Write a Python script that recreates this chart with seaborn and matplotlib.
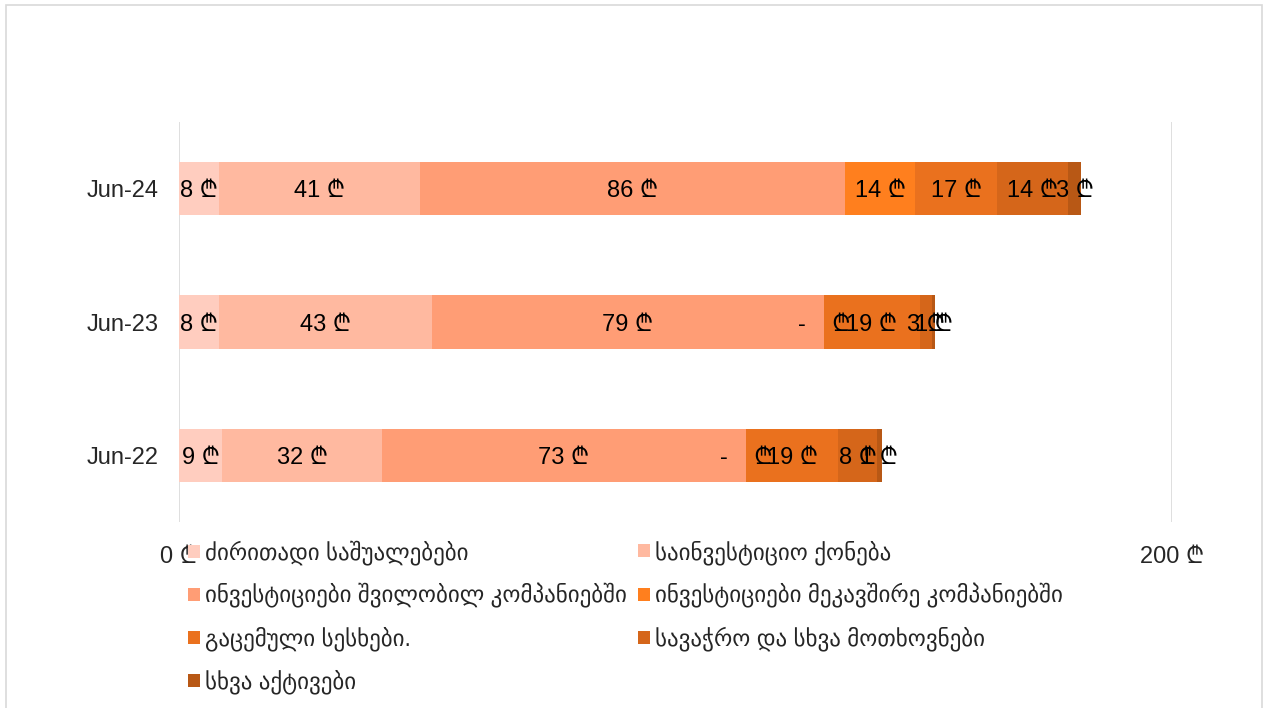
import matplotlib
matplotlib.use("Agg")
import matplotlib.pyplot as plt
import matplotlib.patches as mpatches
import seaborn as sns
import numpy as np
import pandas as pd

# ---------------- data ----------------
periods = ["Jun-24", "Jun-23", "Jun-22"]
series_names = [
    "ძირითადი საშუალებები",
    "საინვესტიციო ქონება",
    "ინვესტიციები შვილობილ კომპანიებში",
    "ინვესტიციები მეკავშირე კომპანიებში",
    "გაცემული სესხები.",
    "სავაჭრო და სხვა მოთხოვნები",
    "სხვა აქტივები",
]
fixed_assets = [8.1, 8.0, 8.7]
investment_property = [40.5, 42.9, 32.2]
inv_subsidiaries = [85.6, 79.0, 73.3]
inv_associates = [14.1, 0.0, 0.0]
loans_issued = [16.5, 19.3, 18.6]
trade_receivables = [14.3, 2.5, 7.7]
other_assets = [2.5, 0.6, 1.0]
xtick_values = [0, 200]
xtick_labels = ["0 ₾", "200 ₾"]

colors = ["#FFCDBF", "#FFB9A0", "#FF9D75", "#FF7F1E", "#EA711E", "#D5661A", "#B85815"]

series_values = [fixed_assets, investment_property, inv_subsidiaries, inv_associates,
                 loans_issued, trade_receivables, other_assets]

# ---------------- style ----------------
sns.set_theme(style="white")
plt.rcParams["font.family"] = ["Liberation Sans", "DejaVu Sans", "Noto Sans"]

FS = 17
LFS = 16.6
W, H = 1269, 708
fig = plt.figure(figsize=(W / 100, H / 100), dpi=100)
ax = fig.add_axes([179 / W, 1 - 522 / H, (1172 - 179) / W, (522 - 122) / H])

# long table with cumulative ends
rows = []
for si, (name, vals) in enumerate(zip(series_names, series_values)):
    for pi, p in enumerate(periods):
        rows.append({"period": p, "series": name, "value": vals[pi], "order": si})
df = pd.DataFrame(rows)
df["cum"] = df.groupby("period")["value"].cumsum()
df["start"] = df["cum"] - df["value"]

# draw stacked bars: longest cumulative first
for si in reversed(range(len(series_names))):
    sub = df[df["order"] == si]
    sns.barplot(data=sub, x="cum", y="period", order=periods, orient="h",
                color=colors[si], width=0.4, ax=ax, saturation=1,
                edgecolor=colors[si], linewidth=0)

# labels
for _, r in df.iterrows():
    yi = periods.index(r["period"])
    xc = r["start"] + r["value"] / 2
    if r["value"] == 0:
        lab = "-    ₾"
    else:
        lab = f"{int(r['value'] + 0.5)} ₾"
    ax.text(xc, yi + 0.02, lab, ha="center", va="center", fontsize=FS, color="black")

ax.set_xlim(0, 200)
ax.set_ylim(2.5, -0.5)
ax.set_xticks(xtick_values)
ax.set_xticklabels(xtick_labels, fontsize=FS)
ax.tick_params(axis="x", length=0, pad=17)
ax.tick_params(axis="y", length=0, pad=15, labelsize=FS)
ax.set_xlabel("")
ax.set_ylabel("")
for s in ax.spines.values():
    s.set_visible(False)
for xv in xtick_values:
    ax.axvline(xv, color="#D9D9D9", linewidth=1.2, zorder=0)
ax.grid(False)

# legends (two columns, placed separately)
handles = [mpatches.Patch(facecolor=c, edgecolor="none") for c in colors]
col1 = [0, 2, 4, 6]
col2 = [1, 3, 5]
leg_kw = dict(frameon=False, fontsize=LFS, handlelength=0.5, handleheight=0.5,
              handletextpad=0.25, labelspacing=0.80, borderpad=0, borderaxespad=0,
              loc="upper left")
leg1 = fig.legend([handles[i] for i in col1], [series_names[i] for i in col1],
                  bbox_to_anchor=(188 / W, 1 - 540 / H), **leg_kw)
leg2 = fig.legend([handles[i] for i in col2], [series_names[i] for i in col2],
                  bbox_to_anchor=(638 / W, 1 - 540 / H), **leg_kw)

# outer frame
fig.patches.append(mpatches.Rectangle((6 / W, -0.01), (1262 - 6) / W, 1 - 5 / H + 0.01,
                                      transform=fig.transFigure, fill=False,
                                      edgecolor="#D9D9D9", linewidth=1.2))

fig.savefig("out.png", dpi=100)
